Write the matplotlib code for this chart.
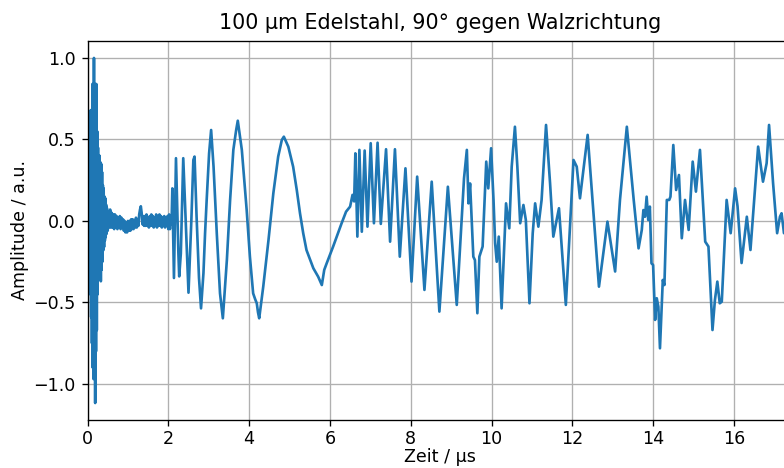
import numpy as np
import matplotlib
matplotlib.use("Agg")
import matplotlib.pyplot as plt

# --- burst at the start (0 - 0.5 us) ---
t_burst = [0.00, 0.01, 0.02, 0.03, 0.04, 0.05, 0.06, 0.07, 0.08, 0.09,
           0.10, 0.11, 0.12, 0.13, 0.14, 0.15, 0.16, 0.17, 0.18, 0.19,
           0.20, 0.21, 0.22, 0.23, 0.24, 0.25, 0.26, 0.27, 0.28, 0.29,
           0.30, 0.31, 0.32, 0.33, 0.34, 0.35, 0.36, 0.37, 0.38, 0.39,
           0.40, 0.41, 0.42, 0.43, 0.44, 0.45, 0.46, 0.47, 0.48, 0.50]
v_burst = [0.05, -0.05, 0.12, -0.08, 0.10, -0.15, 0.30, -0.45, 0.68, -0.59,
           0.66, -0.75, 0.84, -0.90, 0.80, -0.97, 1.00, -0.95, 0.84, -1.117,
           0.84, -0.80, 0.84, -0.67, 0.55, -0.45, 0.45, -0.32, 0.38, -0.30,
           0.40, -0.35, 0.36, -0.37, 0.35, -0.30, 0.30, -0.25, 0.22, -0.18,
           0.20, -0.16, 0.15, -0.12, 0.14, -0.10, 0.10, -0.08, 0.08, -0.06]

# --- noisy baseline (0.5 - 2.1 us) ---
t_base = [0.52, 0.54, 0.56, 0.58, 0.60, 0.62, 0.64, 0.66, 0.68, 0.70,
          0.72, 0.74, 0.76, 0.78, 0.80, 0.82, 0.84, 0.86, 0.88, 0.90,
          0.92, 0.94, 0.96, 0.98, 1.00, 1.02, 1.04, 1.06, 1.08, 1.10,
          1.12, 1.14, 1.16, 1.18, 1.20, 1.22, 1.24, 1.26, 1.28, 1.30,
          1.32, 1.34, 1.36, 1.38, 1.40, 1.42, 1.44, 1.46, 1.48, 1.50,
          1.52, 1.54, 1.56, 1.58, 1.60, 1.62, 1.64, 1.66, 1.68, 1.70,
          1.72, 1.74, 1.76, 1.78, 1.80, 1.82, 1.84, 1.86, 1.88, 1.90,
          1.92, 1.94, 1.96, 1.98, 2.00, 2.02, 2.04, 2.06, 2.08]
v_base = [0.06, -0.04, 0.07, -0.04, 0.05, -0.04, 0.04, -0.05, 0.04, -0.04,
          0.03, -0.05, 0.02, -0.04, 0.03, -0.05, 0.02, -0.04, 0.01, -0.06,
          0.00, -0.07, -0.01, -0.07, 0.00, -0.06, 0.00, -0.06, 0.01, -0.05,
          0.01, -0.05, 0.00, -0.04, 0.02, -0.04, 0.01, -0.03, 0.04, 0.07,
          0.09, 0.05, -0.02, 0.03, -0.03, 0.03, -0.03, 0.04, -0.03, 0.02,
          -0.04, 0.03, -0.03, 0.04, -0.03, 0.03, -0.04, 0.02, -0.03, 0.04,
          -0.04, 0.03, -0.03, 0.04, -0.03, 0.03, -0.04, 0.02, -0.03, 0.03,
          -0.04, 0.02, -0.03, 0.03, -0.05, 0.04, -0.05, 0.03, -0.02]

# --- main echoes (2.1 - 17.4 us) ---
t_echo = [2.10, 2.14, 2.19, 2.25, 2.27, 2.31, 2.37, 2.41, 2.50, 2.57,
          2.62, 2.65, 2.70, 2.76, 2.81, 2.87, 2.91, 2.95, 3.01, 3.06,
          3.12, 3.20, 3.28, 3.35, 3.45, 3.53, 3.61, 3.68, 3.72, 3.82,
          3.94, 4.02, 4.10, 4.15, 4.19, 4.22, 4.25, 4.35, 4.48, 4.60,
          4.72, 4.81, 4.86, 4.97, 5.09, 5.18, 5.26, 5.34, 5.42, 5.59,
          5.71, 5.80, 5.86, 5.92, 6.08, 6.29, 6.40, 6.50, 6.56, 6.60,
          6.63, 6.68, 6.73, 6.79, 6.86, 6.93, 7.01, 7.09, 7.18, 7.26,
          7.39, 7.49, 7.61, 7.73, 7.87, 8.02, 8.16, 8.34, 8.52, 8.71,
          8.92, 9.14, 9.32, 9.39, 9.43, 9.47, 9.55, 9.59, 9.65, 9.70,
          9.78, 9.87, 9.92, 9.99, 10.05, 10.09, 10.13, 10.18, 10.25, 10.36,
          10.44, 10.50, 10.58, 10.64, 10.71, 10.79, 10.85, 10.94, 11.02, 11.08,
          11.16, 11.24, 11.35, 11.45, 11.53, 11.67, 11.84, 12.03, 12.11, 12.19,
          12.38, 12.52, 12.66, 12.87, 13.06, 13.18, 13.35, 13.52, 13.64, 13.72,
          13.76, 13.80, 13.84, 13.88, 13.92, 13.96, 14.00, 14.05, 14.09, 14.13,
          14.17, 14.24, 14.28, 14.34, 14.40, 14.43, 14.50, 14.57, 14.64, 14.71,
          14.79, 14.88, 14.98, 15.06, 15.16, 15.29, 15.37, 15.47, 15.53, 15.59,
          15.65, 15.70, 15.82, 15.92, 16.03, 16.09, 16.19, 16.32, 16.41, 16.60,
          16.72, 16.81, 16.87, 16.97, 17.07, 17.14, 17.18, 17.24, 17.40]
v_echo = [0.20, -0.35, 0.385, -0.20, -0.34, -0.20, 0.385, 0.13, -0.44, 0.00,
          0.374, 0.395, 0.026, -0.35, -0.536, -0.32, -0.076, 0.129, 0.415, 0.558,
          0.333, -0.076, -0.444, -0.597, -0.239, 0.129, 0.436, 0.558, 0.615, 0.436,
          0.067, -0.219, -0.444, -0.48, -0.505, -0.56, -0.597, -0.403, -0.117, 0.17,
          0.395, 0.497, 0.517, 0.456, 0.333, 0.19, 0.047, -0.076, -0.178, -0.29,
          -0.342, -0.393, -0.30, -0.26, -0.157, -0.014, 0.057, 0.088, 0.16, 0.12,
          0.415, -0.096, 0.436, -0.066, 0.432, -0.035, 0.477, -0.014, 0.48, -0.018,
          0.44, -0.127, 0.44, -0.219, 0.323, -0.372, 0.272, -0.423, 0.241, -0.556,
          0.21, -0.515, 0.262, 0.436, 0.108, 0.23, -0.219, -0.24, -0.566, -0.219,
          -0.157, 0.364, 0.20, 0.446, 0.129, -0.137, -0.25, -0.096, -0.536, 0.108,
          -0.045, 0.333, 0.578, 0.333, -0.014, 0.098, 0.006, -0.505, -0.076, 0.108,
          -0.035, 0.129, 0.589, 0.23, -0.096, 0.078, -0.515, 0.374, 0.333, 0.139,
          0.528, 0.067, -0.403, -0.004, -0.31, 0.129, 0.578, 0.129, -0.168, -0.055,
          0.067, 0.026, 0.149, 0.006, 0.088, -0.26, -0.27, -0.607, -0.474, -0.525,
          -0.781, -0.362, -0.393, 0.129, 0.129, 0.149, 0.466, 0.19, 0.282, -0.106,
          0.129, -0.055, 0.364, 0.18, 0.436, -0.127, -0.157, -0.669, -0.485, -0.372,
          -0.505, -0.495, 0.129, -0.075, 0.20, 0.09, -0.258, 0.026, -0.178, 0.456,
          0.241, 0.354, 0.589, 0.231, -0.075, 0.026, 0.047, -0.075, 0.00]

title = "100 µm Edelstahl, 90° gegen Walzrichtung"
xlabel = "Zeit / µs"
ylabel = "Amplitude / a.u."
xticks = [0, 2, 4, 6, 8, 10, 12, 14, 16]
yticks = [-1.0, -0.5, 0.0, 0.5, 1.0]

t = np.array(t_burst + t_base + t_echo)
v = np.array(v_burst + v_base + v_echo)

W, H = 784, 468
fig = plt.figure(figsize=(W / 120, H / 120), dpi=120)
left, right, top, bottom = 87.5, 792.5, 41.0, 420.0
ax = fig.add_axes([left / W, 1 - bottom / H, (right - left) / W, (bottom - top) / H])
ax.plot(t, v, color="#1f77b4", linewidth=1.6)
ax.set_xlim(0, (right - left) / 40.4)
ax.set_ylim(-1.221, 1.104)
ax.set_xticks(xticks)
ax.set_yticks(yticks)
ax.tick_params(axis="both", labelsize=10.5)
ax.tick_params(axis="x", pad=2.3)
ax.grid(True)
ax.set_title(title, fontsize=12.4, pad=7)
ax.set_xlabel(xlabel, labelpad=0.5, fontsize=10.5)
ax.set_ylabel(ylabel, labelpad=2.5, fontsize=10.5)
fig.savefig("out.png", dpi=120)
